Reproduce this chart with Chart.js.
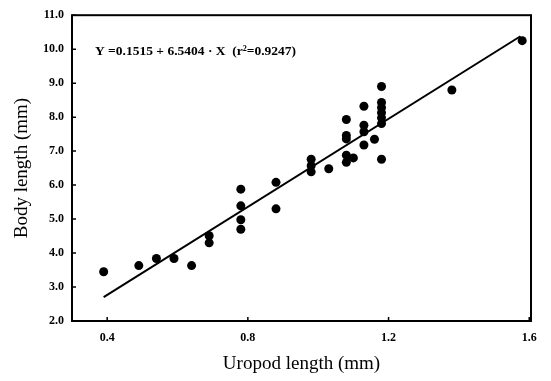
<!DOCTYPE html>
<html>
<head>
<meta charset="utf-8">
<script src="https://cdn.jsdelivr.net/npm/chart.js@4.4.0/dist/chart.umd.min.js"></script>
<style>
  html, body { margin: 0; padding: 0; background: #fff; }
  #wrap { width: 551px; height: 381px; }
</style>
</head>
<body>
<div id="wrap"><canvas id="chart" width="551" height="381"></canvas></div>
<script>
// donnees
const uropodLength = [0.39, 0.49, 0.54, 0.59, 0.64, 0.69, 0.69, 0.78, 0.78, 0.78, 0.78, 0.88, 0.88,
    0.98, 0.98, 0.98, 1.03, 1.08, 1.08, 1.08, 1.08, 1.08, 1.10, 1.13, 1.13, 1.13, 1.13, 1.16,
    1.18, 1.18, 1.18, 1.18, 1.18, 1.18, 1.18, 1.38, 1.58];
const bodyLength = [3.45, 3.63, 3.84, 3.84, 3.63, 4.51, 4.30, 5.88, 5.39, 4.98, 4.70, 6.08, 5.30,
    6.76, 6.57, 6.39, 6.48, 7.93, 7.46, 7.36, 6.88, 6.67, 6.80, 8.32, 7.76, 7.57, 7.18, 7.35,
    8.90, 8.43, 8.28, 8.13, 7.98, 7.81, 6.76, 8.80, 10.25];

// droite de regression (extremites lues)
const fitX = [0.39, 1.575];
const fitY = [2.70, 10.38];

const xTicks = [0.4, 0.8, 1.2, 1.6];
const yTicks = [2, 3, 4, 5, 6, 7, 8, 9, 10, 11];

const equationText = 'Y =0.1515 + 6.5404 \u00b7 X  (r\u00b2=0.9247)';

const serif = '"Liberation Serif", "Times New Roman", serif';

// cadre + graduations vers l'interieur + equation
const framePlugin = {
    id: 'frame',
    afterDraw(chart) {
        const ctx = chart.ctx;
        const a = chart.chartArea;
        const xs = chart.scales.x;
        const ys = chart.scales.y;
        ctx.save();
        ctx.strokeStyle = '#000';
        ctx.lineWidth = 2;
        ctx.strokeRect(a.left, a.top, a.right - a.left, a.bottom - a.top);
        ctx.lineWidth = 1.5;
        ctx.beginPath();
        yTicks.forEach(v => {
            const py = ys.getPixelForValue(v);
            ctx.moveTo(a.left, py);
            ctx.lineTo(a.left + 4, py);
        });
        xTicks.forEach(v => {
            const px = xs.getPixelForValue(v);
            ctx.moveTo(px, a.bottom);
            ctx.lineTo(px, a.bottom - 4);
        });
        ctx.stroke();

        ctx.fillStyle = '#000';
        ctx.font = 'bold 13.5px ' + serif;
        ctx.textBaseline = 'middle';
        ctx.fillText(equationText, a.left + 23, a.top + 36);
        ctx.restore();
    }
};

const ctx = document.getElementById('chart').getContext('2d');
const pts = uropodLength.map((x, i) => ({ x: x, y: bodyLength[i] }));
const fit = fitX.map((x, i) => ({ x: x, y: fitY[i] }));

new Chart(ctx, {
    type: 'scatter',
    data: {
        datasets: [
            {
                label: 'mesures',
                data: pts,
                backgroundColor: '#000',
                borderColor: '#000',
                pointRadius: 4.5,
                pointBorderWidth: 0
            },
            {
                label: 'regression',
                data: fit,
                showLine: true,
                borderColor: '#000',
                borderWidth: 2,
                pointRadius: 0,
                fill: false
            }
        ]
    },
    plugins: [framePlugin],
    options: {
        responsive: false,
        animation: false,
        layout: { padding: { top: 9, right: 20, left: 0, bottom: 0 } },
        plugins: {
            legend: { display: false },
            tooltip: { enabled: false }
        },
        scales: {
            x: {
                type: 'linear',
                min: 0.3,
                max: 1.605,
                afterBuildTicks: s => { s.ticks = xTicks.map(v => ({ value: v })); },
                afterFit: s => { s.height = 60; },
                grid: { display: false, drawTicks: false },
                border: { display: false },
                ticks: {
                    color: '#000',
                    padding: 10,
                    maxRotation: 0,
                    font: { family: serif, size: 12, weight: 'bold' },
                    callback: v => v.toFixed(1)
                },
                title: {
                    display: true,
                    text: 'Uropod length (mm)',
                    color: '#000',
                    font: { family: serif, size: 19 },
                    padding: { top: 0, bottom: 6 }
                }
            },
            y: {
                type: 'linear',
                min: 2,
                max: 11,
                afterBuildTicks: s => { s.ticks = yTicks.map(v => ({ value: v })); },
                afterFit: s => { s.width = 72; },
                grid: { display: false, drawTicks: false },
                border: { display: false },
                ticks: {
                    color: '#000',
                    padding: 8,
                    font: { family: serif, size: 12, weight: 'bold' },
                    callback: v => v.toFixed(1)
                },
                title: {
                    display: true,
                    text: 'Body length (mm)',
                    color: '#000',
                    font: { family: serif, size: 19 },
                    padding: { top: 11, bottom: 0 }
                }
            }
        }
    }
});
</script>
</body>
</html>
